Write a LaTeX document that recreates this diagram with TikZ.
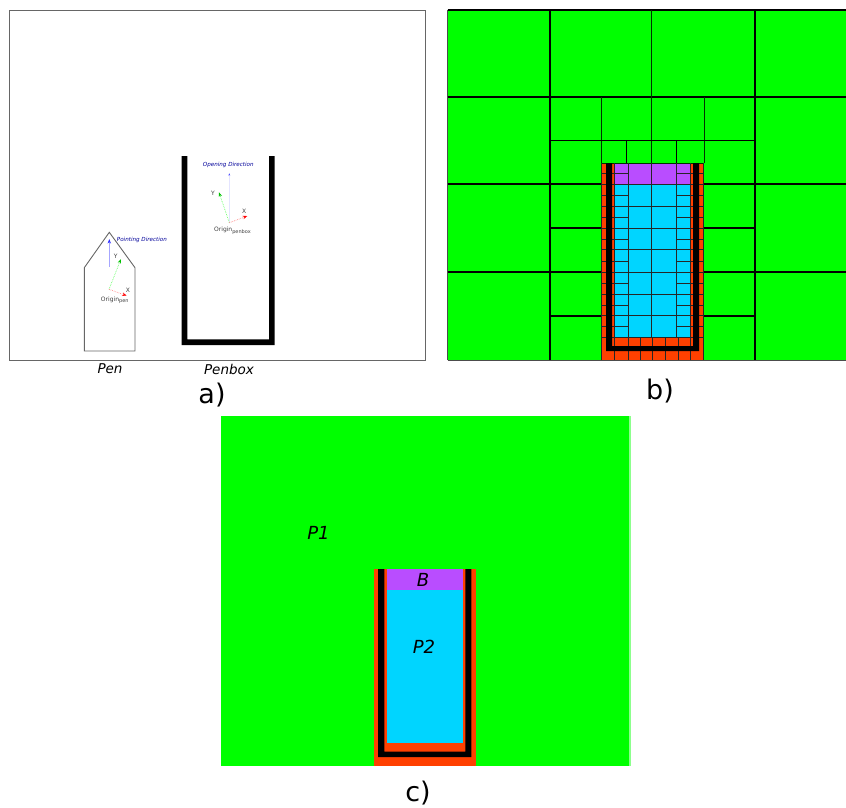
\documentclass[tikz,border=0pt]{standalone}
\usepackage{fontspec}
\setmainfont{DejaVu Sans}
\usepackage{tikz}
\usetikzlibrary{arrows.meta}
\definecolor{pgreen}{HTML}{00FF00}
\definecolor{pblue}{HTML}{00D5FF}
\definecolor{ppurple}{HTML}{B94DFF}
\definecolor{pred}{HTML}{FF4000}

\begin{document}
\begin{tikzpicture}[
      x=1pt,y=-1pt,
      partlbl/.style={font=\fontsize{27}{29}\selectfont,inner sep=0pt},
      objlbl/.style={font=\fontsize{13.5}{15}\selectfont\itshape,inner sep=0pt},
      reglbl/.style={font=\fontsize{18}{20}\selectfont\itshape,inner sep=0pt},
      dirlbl/.style={font=\fontsize{5.6}{6}\selectfont\itshape,text=blue!60!black,inner sep=0pt},
      axlbl/.style={font=\fontsize{6}{7}\selectfont,text=black!75,inner sep=0pt},
      xaxis/.style={-{Stealth[length=4.5pt,red]},red!45,densely dotted,line width=.7pt},
      yaxis/.style={-{Stealth[length=4.5pt,green!75!black]},green!60,densely dotted,line width=.7pt},
      diraxis/.style={-{Stealth[length=4.5pt,blue!80]},blue!35,line width=.7pt},
      thickline/.style={black,line width=1.1pt},
      thinline/.style={black!80!green,line width=.8pt},
      cellline/.style={black!85,line width=.9pt}
    ]
    \useasboundingbox (0,0) rectangle (846,808);

    % a) pen and penbox
    \draw[black!60,line width=.7pt] (9,10) rectangle (425,360);
    \draw[black!60,line width=.9pt] (84.3,351) -- (84.3,267.7) -- (109.3,232.3)
      -- (135,267.7) -- (135,351) -- cycle;
    \fill[black] (181.7,156) -- (187.4,156) -- (187.4,339.3) -- (269,339.3)
      -- (269,156) -- (274.7,156) -- (274.7,345) -- (181.7,345) -- cycle;

    \coordinate (penorigin) at (109,289.3);
    \coordinate (penx) at (126.7,295.7);
    \coordinate (peny) at (121,259);
    \coordinate (pentail) at (109.3,266.7);
    \coordinate (pentip) at (109.3,239);
    \draw[diraxis] (pentail) -- (pentip);
    \draw[yaxis] (penorigin) -- (peny);
    \draw[xaxis] (penorigin) -- (penx);
    \node[dirlbl,anchor=west] (pointing) at (116.7,239.5) {Pointing Direction};
    \node[axlbl] (penylbl) at (115.7,256.7) {Y};
    \node[axlbl] (penxlbl) at (128,290.7) {X};
    \node[axlbl] (penorg) at (115,300.7) {Origin\textsubscript{pen}};

    \coordinate (boxorigin) at (229.3,222.7);
    \coordinate (boxx) at (247.3,216);
    \coordinate (boxy) at (219,192.3);
    \coordinate (boxtip) at (229.3,173);
    \draw[-{Stealth[length=3pt,blue!80]},blue!70,line width=.3pt,draw opacity=.15] (boxorigin) -- (boxtip);
    \draw[yaxis] (boxorigin) -- (boxy);
    \draw[xaxis] (boxorigin) -- (boxx);
    \node[dirlbl] (opening) at (228.3,165) {Opening Direction};
    \node[axlbl] (boxylbl) at (213,193.5) {Y};
    \node[axlbl] (boxxlbl) at (244.3,211.7) {X};
    \node[axlbl] (boxorg) at (232.7,230.7) {Origin\textsubscript{penbox}};

    \node[objlbl] (pen) at (110,368.5) {Pen};
    \node[objlbl] (penbox) at (229,369) {Penbox};
    \node[partlbl] (parta) at (212,395) {a)};

    % b) subdivided cells
    \fill[pgreen] (447.5,10) rectangle (846,360);
    \fill[pred] (601.5,163) rectangle (703.5,360);
    \fill[ppurple] (614,163) rectangle (690.7,184);
    \fill[pblue] (614,184) rectangle (690.7,337);

    \draw[thickline] (447.5,10) -- (846,10);
    \draw[black!70,line width=1.1pt] (447.5,10) -- (447.5,360);
    \draw[black!70,line width=.8pt] (447.5,360) -- (846,360);
    \foreach \yy in {97,184,272}
      \draw[thickline] (447.5,\yy) -- (550,\yy) (755,\yy) -- (846,\yy);
    \draw[thickline] (550,10) -- (550,360);
    \draw[thickline] (755,10) -- (755,360);
    \draw[thickline] (550,97) -- (755,97);
    \draw[thinline] (651.5,10) -- (651.5,163);
    \draw[thinline] (601,97) -- (601,163);
    \draw[thinline] (704.3,97) -- (704.3,163);
    \draw[thickline] (550,140.5) -- (755,140.5);
    \draw[thickline] (626.7,140.5) -- (626.7,163);
    \draw[thickline] (676.7,140.5) -- (676.7,163);
    \draw[thinline] (601,163) -- (704,163);
    \foreach \yy in {184,228,272,316}
      \draw[thickline] (550,\yy) -- (601,\yy) (704,\yy) -- (755,\yy);

    % small cells
    \foreach \yy in {173.5,184,195,206,217,228,239,249.5,261,272,283,294,305,315.5,326}
      \draw[cellline] (601.5,\yy) -- (606,\yy) (612,\yy) -- (628,\yy)
        (676.7,\yy) -- (693,\yy) (699,\yy) -- (703.5,\yy);
    \foreach \yy in {184,206,228,249.5,272,294,315.5}
      \draw[cellline] (628,\yy) -- (676.7,\yy);
    \draw[cellline] (628,163) -- (628,337) (651.7,163) -- (651.7,337) (676.7,163) -- (676.7,337);
    \draw[cellline] (614,163) -- (614,337) (690.7,163) -- (690.7,337);
    \draw[cellline] (601.5,163) -- (601.5,360) (703.5,163) -- (703.5,360);
    \draw[cellline] (601.5,337) -- (703.5,337);
    \foreach \xx in {614,628,640,652,665.5,678,690.7}
      \draw[cellline] (\xx,337) -- (\xx,360);
    \fill[black] (606,163) -- (612,163) -- (612,346) -- (693,346)
      -- (693,163) -- (699,163) -- (699,351) -- (606,351) -- cycle;
    \node[partlbl] (partb) at (660,391) {b)};

    % c) regions
    \fill[pgreen] (221,416) rectangle (628.5,766);
    \fill[green!45] (628.5,416) rectangle (630.5,766);
    \fill[pred] (374,569) rectangle (475.7,765.5);
    \fill[ppurple] (387,569) rectangle (463,590);
    \fill[pblue] (387,590) rectangle (463,743.3);
    \fill[black] (378,569) -- (384.3,569) -- (384.3,751.7) -- (465.3,751.7)
      -- (465.3,569) -- (471.3,569) -- (471.3,757) -- (378,757) -- cycle;
    \node[reglbl] (pone) at (318.5,533) {P1};
    \node[reglbl] (bnd) at (423,580) {B};
    \node[reglbl] (ptwo) at (424,647) {P2};
    \node[partlbl] (partc) at (418,793) {c)};

  \end{tikzpicture}
\end{document}
